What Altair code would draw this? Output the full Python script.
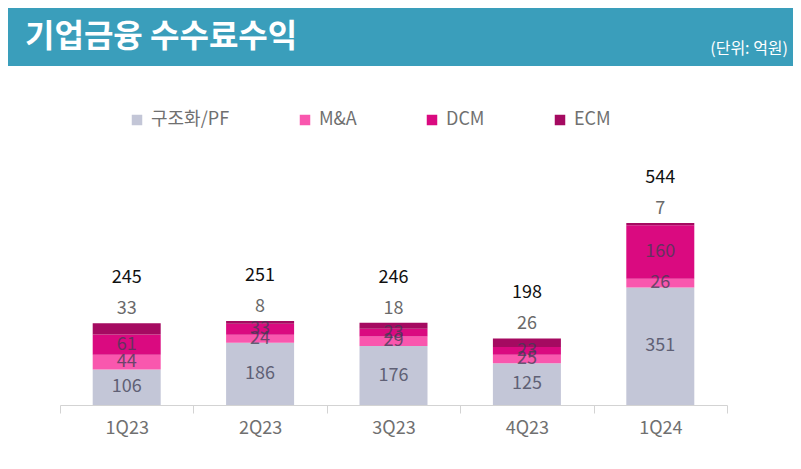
import altair as alt
import pandas as pd

quarters = ["1Q23", "2Q23", "3Q23", "4Q23", "1Q24"]
series = ["구조화/PF", "M&A", "DCM", "ECM"]
pf = [106, 186, 176, 125, 351]
mna = [44, 24, 29, 25, 26]
dcm = [61, 33, 23, 23, 160]
ecm = [33, 8, 18, 26, 7]
totals = [245, 251, 246, 198, 544]
colors = ["#C3C6D7", "#F957AE", "#DA0A80", "#A50A61"]

FONT = "Noto Sans CJK KR"

rows = []
for i, q in enumerate(quarters):
    for j, (s, vals) in enumerate(zip(series, [pf, mna, dcm, ecm])):
        rows.append({"quarter": q, "series": s, "idx": j, "value": vals[i]})
df = pd.DataFrame(rows)

tot_df = pd.DataFrame({
    "quarter": quarters,
    "total": totals,
    "stacktop": [a + b + c + d for a, b, c, d in zip(pf, mna, dcm, ecm)],
    "ecm": ecm,
})

W, H = 667, 265
YMAX = 792

xenc = alt.X("quarter:N", sort=quarters, title=None,
             scale=alt.Scale(paddingInner=0, paddingOuter=0),
             axis=alt.Axis(labelAngle=0, labelFontSize=18, labelColor="#707070",
                           labelFont=FONT, domainColor="#D3D3D3", tickColor="#D3D3D3",
                           tickSize=8, tickBand="extent", labelPadding=6, grid=False))
yscale = alt.Scale(domain=[0, YMAX])

base = alt.Chart(df)

bars = base.mark_bar(width=68).encode(
    x=xenc,
    y=alt.Y("sum(value):Q", stack="zero", scale=yscale, axis=None),
    color=alt.Color("series:N", sort=series,
                    scale=alt.Scale(domain=series, range=colors),
                    legend=alt.Legend(orient="none", legendX=68, legendY=-29,
                                      direction="horizontal", title=None,
                                      symbolType="square", symbolSize=110,
                                      symbolStrokeWidth=0, labelFontSize=18,
                                      labelColor="#707070", labelFont=FONT,
                                      columnPadding=66, labelOffset=5, padding=0)),
    order=alt.Order("idx:Q", sort="ascending"),
)

inner = base.transform_stack(
    stack="value", groupby=["quarter"], as_=["v0", "v1"],
    sort=[alt.SortField("idx", order="ascending")],
).transform_calculate(
    mid="(datum.v0 + datum.v1) / 2"
).transform_filter(
    "datum.series != 'ECM'"
).mark_text(fontSize=18, font=FONT, color="#3E3E55", opacity=0.75,
            baseline="middle").encode(
    x=alt.X("quarter:N", sort=quarters),
    y=alt.Y("mid:Q", scale=yscale),
    text="value:Q",
)

tbase = alt.Chart(tot_df)
ecm_lbl = tbase.mark_text(fontSize=18, font=FONT, color="#6A6A6A", dy=-14,
                          baseline="middle").encode(
    x=alt.X("quarter:N", sort=quarters),
    y=alt.Y("stacktop:Q", scale=yscale),
    text="ecm:Q",
)
tot_lbl = tbase.mark_text(fontSize=18, font=FONT, color="#111111", dy=-45,
                          baseline="middle").encode(
    x=alt.X("quarter:N", sort=quarters),
    y=alt.Y("stacktop:Q", scale=yscale),
    text="total:Q",
)

one = alt.Chart(pd.DataFrame({"a": [0]}))
banner = one.mark_rect(color="#3A9EBB").encode(
    x=alt.value(-52), x2=alt.value(733), y=alt.value(-132), y2=alt.value(-74))
title = one.mark_text(align="left", baseline="middle", fontSize=32,
                      fontWeight="bold", font=FONT, color="white").encode(
    x=alt.value(-35), y=alt.value(-103), text=alt.value("기업금융 수수료수익"))
unit = one.mark_text(align="right", baseline="middle", fontSize=16,
                     font=FONT, color="white").encode(
    x=alt.value(728), y=alt.value(-91), text=alt.value("(단위: 억원)"))

chart = alt.layer(banner, title, unit, bars, inner, ecm_lbl, tot_lbl).properties(
    width=W, height=H,
    padding={"left": 52, "top": 132, "right": 66, "bottom": 56},
    autosize=alt.AutoSizeParams(type="none"),
    background="white",
).configure_view(stroke=None)

chart.save("out.html", embed_options={"renderer": "svg", "actions": False})
